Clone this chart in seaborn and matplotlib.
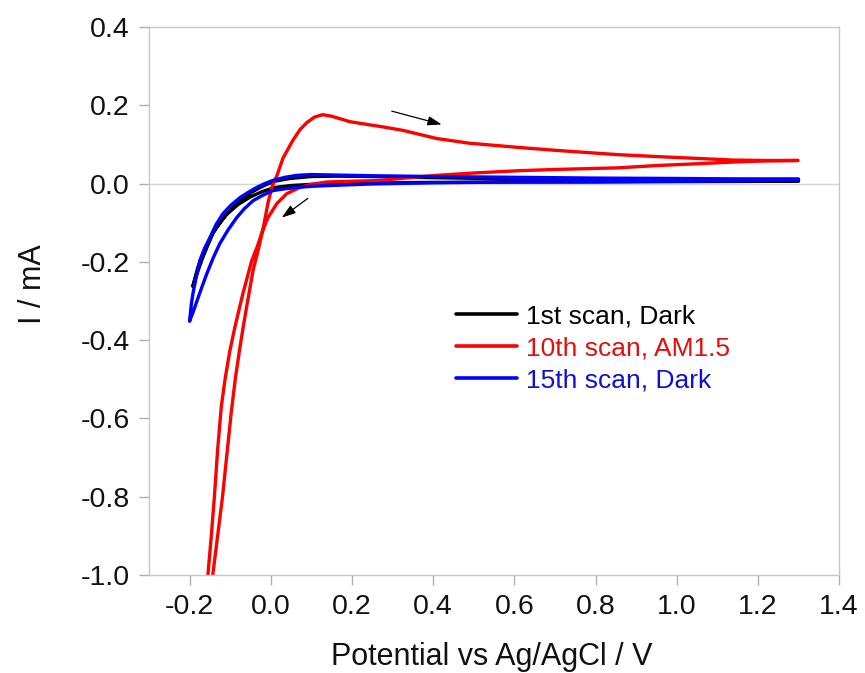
import numpy as np
import pandas as pd
import matplotlib
matplotlib.use("Agg")
import matplotlib.pyplot as plt
from matplotlib.ticker import FuncFormatter
import seaborn as sns

# Cyclic voltammograms: potential (V vs Ag/AgCl) and current (mA)
# 1st scan, dark: anodic sweep then cathodic sweep
e_dark1_fwd = [-0.192, -0.180, -0.168, -0.155, -0.143, -0.125, -0.108, -0.090, -0.070, -0.050,
               -0.030, -0.010, 0.010, 0.047, 0.100, 0.160, 0.250, 0.400, 0.600, 0.800, 1.000, 1.300]
i_dark1_fwd = [-0.262, -0.225, -0.190, -0.157, -0.128, -0.100, -0.077, -0.057, -0.038, -0.024,
               -0.012, -0.002, 0.006, 0.013, 0.018, 0.019, 0.018, 0.015, 0.012, 0.010, 0.009, 0.008]
e_dark1_rev = [1.300, 1.000, 0.800, 0.600, 0.400, 0.250, 0.160, 0.100, 0.050, 0.010, -0.020,
               -0.050, -0.080, -0.110, -0.140, -0.165, -0.180, -0.192]
i_dark1_rev = [0.006, 0.005, 0.004, 0.004, 0.003, 0.002, 0.000, -0.002, -0.005, -0.010, -0.020,
               -0.034, -0.053, -0.080, -0.120, -0.175, -0.215, -0.262]

# 10th scan, AM1.5 illumination
e_light_fwd = [-0.150, -0.143, -0.131, -0.119, -0.108, -0.097, -0.087, -0.077, -0.067, -0.057,
               -0.044, -0.030, -0.018, -0.007, 0.004, 0.015, 0.030, 0.054, 0.072, 0.089, 0.108,
               0.128, 0.150, 0.195, 0.244, 0.269, 0.325, 0.409, 0.490, 0.614, 0.700,
               0.811, 0.853, 0.950, 1.057, 1.139, 1.220, 1.299]
i_light_fwd = [-1.060, -1.000, -0.900, -0.800, -0.690, -0.580, -0.495, -0.425, -0.360, -0.300,
               -0.223, -0.165, -0.110, -0.050, -0.005, 0.020, 0.065, 0.110, 0.138, 0.156, 0.170,
               0.176, 0.172, 0.158, 0.150, 0.146, 0.136, 0.115, 0.103, 0.092, 0.085,
               0.077, 0.074, 0.069, 0.064, 0.060, 0.059, 0.059]
e_light_rev = [1.299, 1.220, 1.139, 1.057, 0.950, 0.853, 0.811, 0.700, 0.614, 0.500, 0.409,
               0.330, 0.269, 0.200, 0.138, 0.100, 0.071, 0.039, 0.015, -0.007, -0.020, -0.033,
               -0.047, -0.069, -0.089, -0.101, -0.112, -0.122, -0.131, -0.139, -0.147, -0.155,
               -0.158]
i_light_rev = [0.059, 0.058, 0.055, 0.051, 0.046, 0.040, 0.039, 0.036, 0.033, 0.027, 0.021,
               0.014, 0.008, 0.006, 0.004, -0.002, -0.010, -0.026, -0.051, -0.087, -0.120, -0.160,
               -0.197, -0.282, -0.369, -0.428, -0.495, -0.570, -0.680, -0.800, -0.905, -1.000,
               -1.060]

# 15th scan, dark
e_dark15_fwd = [-0.200, -0.196, -0.192, -0.184, -0.175, -0.163, -0.150, -0.135, -0.118, -0.098,
                -0.076, -0.055, -0.035, -0.015, 0.005, 0.035, 0.064, 0.100, 0.145, 0.250, 0.400,
                0.600, 0.800, 1.000, 1.150, 1.300]
i_dark15_fwd = [-0.351, -0.310, -0.282, -0.240, -0.197, -0.165, -0.138, -0.105, -0.077, -0.055,
                -0.036, -0.022, -0.010, 0.000, 0.008, 0.016, 0.021, 0.023, 0.022, 0.020, 0.018,
                0.016, 0.014, 0.013, 0.012, 0.012]
e_dark15_rev = [1.300, 1.150, 1.000, 0.800, 0.600, 0.400, 0.250, 0.145, 0.100, 0.064, 0.030,
                0.005, -0.020, -0.044, -0.065, -0.084, -0.105, -0.126, -0.142, -0.158, -0.170,
                -0.182, -0.192, -0.200]
i_dark15_rev = [0.010, 0.007, 0.006, 0.005, 0.004, 0.002, -0.001, -0.005, -0.007, -0.010, -0.014,
                -0.018, -0.030, -0.044, -0.064, -0.087, -0.118, -0.154, -0.190, -0.231, -0.265,
                -0.300, -0.330, -0.351]

labels = ["1st scan, Dark", "10th scan, AM1.5", "15th scan, Dark"]
line_colors = ["#000000", "#ff0000", "#0000ff"]
text_colors = ["#000000", "#e01010", "#1010d0"]

sns.set_theme(style="white")
plt.rcParams["font.family"] = ["Liberation Sans", "DejaVu Sans"]

fig = plt.figure(figsize=(8.65, 6.73), dpi=100)
ax = fig.add_axes([0.1723, 0.1456, 0.7977, 0.8143])

curves = [
    (e_dark1_fwd + e_dark1_rev, i_dark1_fwd + i_dark1_rev),
    (e_light_fwd + e_light_rev, i_light_fwd + i_light_rev),
    (e_dark15_fwd + e_dark15_rev, i_dark15_fwd + i_dark15_rev),
]

ax.axhline(0.0, color="#d4d4d4", lw=1.0, zorder=0)

for (e, i), lab, col in zip(curves, labels, line_colors):
    df = pd.DataFrame({"E": e, "I": i})
    sns.lineplot(data=df, x="E", y="I", sort=False, estimator=None, color=col,
                 lw=2.4, label=lab, ax=ax)

# scan direction arrows
arrow_kw = dict(arrowstyle="-|>,head_length=0.6,head_width=0.2", color="black",
                lw=0.9, mutation_scale=14, shrinkA=0, shrinkB=0)
ax.annotate("", xy=(0.421, 0.151), xytext=(0.298, 0.185), arrowprops=arrow_kw)
ax.annotate("", xy=(0.027, -0.087), xytext=(0.091, -0.038), arrowprops=arrow_kw)

ax.set_xlim(-0.3, 1.4)
ax.set_ylim(-1.0, 0.4)
ax.set_xticks(np.arange(-0.2, 1.41, 0.2))
ax.set_yticks(np.arange(-1.0, 0.41, 0.2))
fmt = FuncFormatter(lambda v, _: f"{round(v, 1) + 0.0:.1f}")
ax.xaxis.set_major_formatter(fmt)
ax.yaxis.set_major_formatter(fmt)

for sp in ax.spines.values():
    sp.set_visible(True)
    sp.set_color("#c8c8c8")
    sp.set_linewidth(1.0)

ax.tick_params(axis="both", which="major", direction="out", length=7, width=1.0,
               color="#b0b0b0", labelsize=20.5, labelcolor="#111111", pad=7,
               bottom=True, left=True)

ax.set_xlabel("Potential vs Ag/AgCl / V", fontsize=22, color="#111111")
ax.set_ylabel("I / mA", fontsize=22, color="#111111")
ax.xaxis.set_label_coords(0.497, -0.122)
ax.yaxis.set_label_coords(-0.147, 0.53)

leg = ax.legend(loc="center left", bbox_to_anchor=(0.445, 0.414), frameon=False,
                fontsize=19, handlelength=2.3, handletextpad=0.35, labelspacing=0.3,
                borderpad=0, borderaxespad=0)
for txt, c in zip(leg.get_texts(), text_colors):
    txt.set_color(c)
for h in leg.get_lines():
    h.set_linewidth(2.6)

fig.savefig("out.png", dpi=100)
